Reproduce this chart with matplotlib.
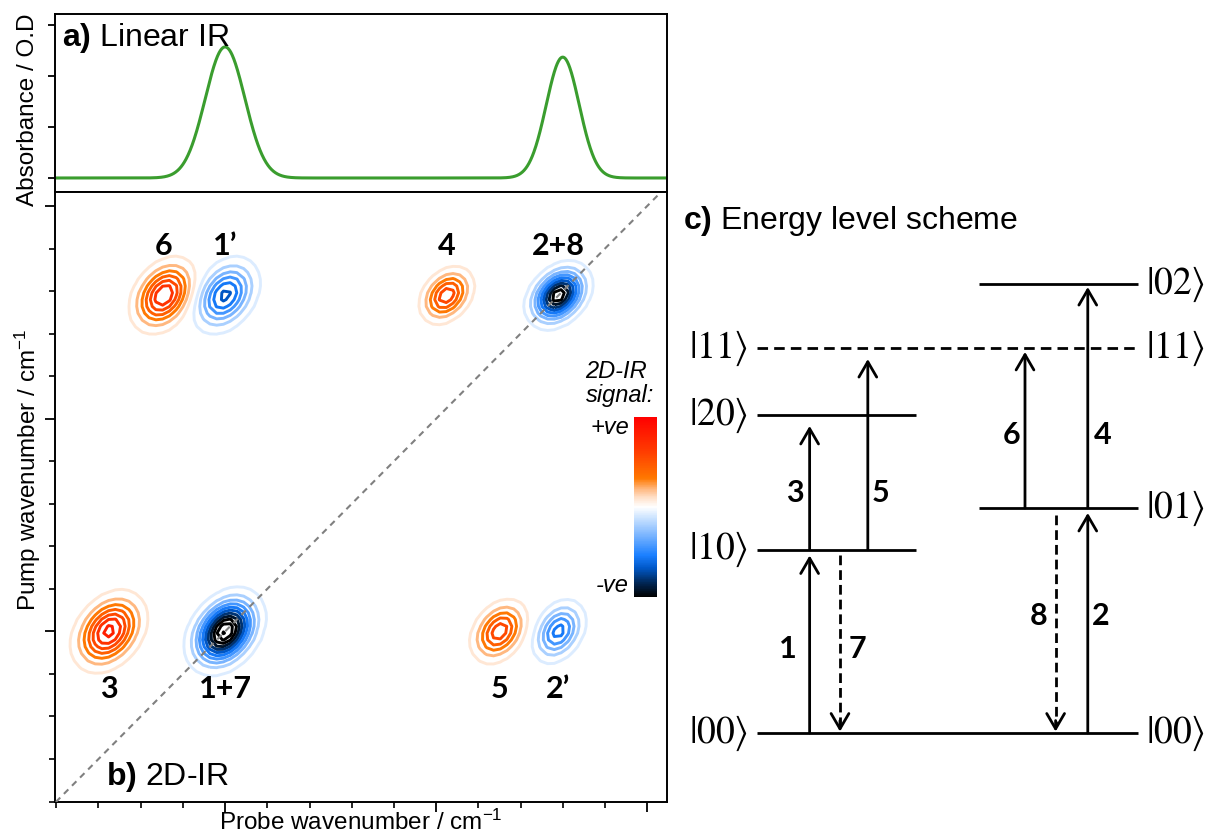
import numpy as np
import matplotlib as mpl
import matplotlib.pyplot as plt
from matplotlib.colors import LinearSegmentedColormap, Normalize
from matplotlib.ticker import MultipleLocator

plt.rcParams['font.family'] = ['Liberation Sans', 'DejaVu Sans']
plt.rcParams['mathtext.fontset'] = 'custom'
plt.rcParams['mathtext.rm'] = 'Liberation Sans'
plt.rcParams['mathtext.it'] = 'Liberation Sans:italic'
plt.rcParams['mathtext.bf'] = 'Liberation Sans:bold'

# Linear IR bands (centre / cm-1, height / O.D, gaussian sigma / cm-1)
ir_centres = [1600, 1680]
ir_heights = [2.57, 2.37]
ir_sigmas = [4.7, 3.9]

# 2D-IR peaks
peak_labels = ['3', '1+7', '5', '2\u2019', '6', '1\u2019', '4', '2+8']
peak_probe = [1572.5, 1600, 1665, 1679, 1585.5, 1600, 1652.5, 1679]
peak_pump = [1600, 1600, 1600, 1600, 1679, 1679, 1679, 1679]
peak_amp = [0.85, -1.3, 0.65, -0.62, 0.8, -0.72, 0.66, -1.15]
peak_sx = [4.2, 4.1, 3.4, 3.2, 3.85, 3.95, 3.2, 3.5]
peak_sy = [4.5, 4.4, 3.7, 3.7, 4.25, 4.35, 3.3, 3.5]
peak_rho = 0.32

# energy level scheme (energies in units of the |10> level)
level_names = ['00', '10', '20', '01', '02', '11']
level_energy = [0.0, 1.0, 1.733, 1.228, 2.451, 2.10]
level_side = ['both', 'left', 'left', 'right', 'right', 'both']

trans_labels = ['1', '3', '5', '7', '2', '6', '4', '8']
trans_start = [0.0, 1.0, 1.0, 0.969, 0.0, 1.228, 1.228, 1.19]
trans_end = [0.969, 1.676, 2.041, 0.008, 1.201, 2.080, 2.434, 0.008]
trans_dashed = [False, False, False, True, False, False, False, True]

# ---- layout ----
W, H = 1208, 836
fig = plt.figure(figsize=(W / 100, H / 100), dpi=100)


def px_axes(x0, y0, x1, y1):
    return fig.add_axes([x0 / W, 1 - y1 / H, (x1 - x0) / W, (y1 - y0) / H])


ax_ir = px_axes(55, 14, 667, 192)
ax_2d = px_axes(55, 192, 667, 802)
cax = px_axes(634, 417, 657, 597)
ax_lv = px_axes(680, 200, 1208, 836)

xlim = (1559.7, 1704.7)
ylim = (1559.9, 1703.3)

cmap = LinearSegmentedColormap.from_list('ir2d', [
    (0.0, '#000000'), (0.08, '#002858'), (0.16, '#0058c8'), (0.23, '#1a7fff'),
    (0.35, '#80b8ff'), (0.45, '#d4e8ff'), (0.5, '#ffffff'), (0.55, '#ffe2cc'),
    (0.6, '#ffb880'), (0.66, '#ff7800'), (0.81, '#ff3c00'), (1.0, '#ff0000')])
norm = Normalize(-1, 1)

# ---- a) linear IR ----
wn = np.linspace(xlim[0], xlim[1], 1500)
absorb = np.zeros_like(wn)
for c, h, s in zip(ir_centres, ir_heights, ir_sigmas):
    absorb += h * np.exp(-0.5 * ((wn - c) / s) ** 2)
ax_ir.plot(wn, absorb, color='#3a9d2e', lw=2.2)
ax_ir.set_xlim(xlim)
ax_ir.set_ylim(-0.275, 3.216)
ax_ir.set_yticks([0, 1, 2, 3])
ax_ir.set_xticks([])
ax_ir.tick_params(axis='y', direction='out', length=5, width=1.3, labelleft=False)

# ---- b) 2D-IR ----
gx = np.arange(1550, 1715, 1.6)
X, Y = np.meshgrid(gx, gx)
Z = np.zeros_like(X)
for a, px, py, sx, sy in zip(peak_amp, peak_probe, peak_pump, peak_sx, peak_sy):
    dx = (X - px) / sx
    dy = (Y - py) / sy
    q = (dx ** 2 + dy ** 2 - 2 * peak_rho * dx * dy) / (1 - peak_rho ** 2)
    Z += a * np.exp(-0.5 * q)

levels = np.concatenate([-np.arange(0.08, 1.4, 0.12)[::-1], np.arange(0.08, 1.0, 0.12)])
ax_2d.contour(X, Y, Z, levels=levels, cmap=cmap, norm=norm, linewidths=2.1)
ax_2d.axline((1600, 1600), slope=1, color='#808080', lw=1.5, ls=(0, (3, 2.5)), zorder=3)

for lab, px, py in zip(peak_labels, peak_probe, peak_pump):
    dy = 11.5 if py > 1640 else -13.6
    ax_2d.text(px, py + dy, lab, ha='center', va='center', fontsize=22,
               fontfamily=['Lato', 'DejaVu Sans'], fontweight='bold')

ax_2d.set_xlim(xlim)
ax_2d.set_ylim(ylim)
for axis in (ax_2d.xaxis, ax_2d.yaxis):
    axis.set_major_locator(MultipleLocator(50))
    axis.set_minor_locator(MultipleLocator(10))
ax_2d.tick_params(which='major', direction='out', length=7, width=1.3,
                  labelbottom=False, labelleft=False)
ax_2d.tick_params(which='minor', direction='out', length=4, width=1.2)

for ax in (ax_ir, ax_2d):
    for sp in ax.spines.values():
        sp.set_linewidth(1.4)

fig.text(28 / W, 1 - 110 / H, 'Absorbance / O.D', rotation=90, ha='center', va='center', fontsize=17.5)
fig.text(28 / W, 1 - 470 / H, 'Pump wavenumber / cm$^{-1}$', rotation=90, ha='center', va='center', fontsize=17.5)
fig.text(361 / W, 1 - 822 / H, 'Probe wavenumber / cm$^{-1}$', ha='center', va='center', fontsize=17.5)

fig.text(62 / W, 1 - 38 / H, r'$\mathbf{a)}$ Linear IR', va='center', fontsize=23)
fig.text(106 / W, 1 - 777 / H, r'$\mathbf{b)}$ 2D-IR', va='center', fontsize=23)
fig.text(683 / W, 1 - 221 / H, r'$\mathbf{c)}$ Energy level scheme', va='center', fontsize=23)

# colour bar
cb = fig.colorbar(mpl.cm.ScalarMappable(norm=norm, cmap=cmap), cax=cax)
cb.outline.set_visible(False)
cb.set_ticks([])
fig.text(647 / W, 1 - 372 / H, '2D-IR', ha='right', va='center', fontsize=17, style='italic')
fig.text(654 / W, 1 - 396 / H, 'signal:', ha='right', va='center', fontsize=17, style='italic')
fig.text(629 / W, 1 - 428 / H, '+ve', ha='right', va='center', fontsize=17, style='italic')
fig.text(629 / W, 1 - 586 / H, '-ve', ha='right', va='center', fontsize=17, style='italic')

# ---- c) energy level scheme ----
ax_lv.set_xlim(0, 1)
ax_lv.set_ylim(-0.562, 2.909)
ax_lv.axis('off')

span = {'left': (0.146, 0.447), 'right': (0.567, 0.868), 'both': (0.146, 0.868)}
for name, e, side in zip(level_names, level_energy, level_side):
    x0, x1 = span[side]
    ls = (0, (3.8, 2.2)) if name == '11' else '-'
    ax_lv.plot([x0, x1], [e, e], color='k', lw=2.0, ls=ls, solid_capstyle='butt')
    ket = r'$|%s\rangle$' % name
    if side in ('left', 'both'):
        ax_lv.text(0.129, e, ket, ha='right', va='center', fontsize=27, math_fontfamily='stix')
    if side in ('right', 'both'):
        ax_lv.text(0.883, e, ket, ha='left', va='center', fontsize=27, math_fontfamily='stix')

trans_x = [0.2455, 0.2455, 0.3557, 0.3030, 0.7723, 0.6534, 0.7723, 0.7114]
label_dx = [-0.042, -0.028, 0.025, 0.034, 0.025, -0.026, 0.029, -0.032]
label_e = [0.461, 1.31, 1.31, 0.461, 0.636, 1.627, 1.627, 0.636]
head = dict(arrowstyle='->,head_length=0.55,head_width=0.32', lw=2.0, color='k',
            shrinkA=0, shrinkB=0, mutation_scale=20)
for lab, x, e0, e1, dashed, dx, le in zip(trans_labels, trans_x, trans_start, trans_end,
                                          trans_dashed, label_dx, label_e):
    if dashed:
        ax_lv.plot([x, x], [e0, e1 + 0.04], color='k', lw=2.0, ls=(0, (3.5, 1.8)))
        ax_lv.annotate('', xy=(x, e1), xytext=(x, e1 + 0.06), arrowprops=head)
    else:
        ax_lv.annotate('', xy=(x, e1), xytext=(x, e0), arrowprops=head)
    ax_lv.text(x + dx, le, lab, ha='center', va='center', fontsize=22,
               fontfamily=['Lato', 'DejaVu Sans'], fontweight='bold')

fig.savefig('out.png', dpi=100)
